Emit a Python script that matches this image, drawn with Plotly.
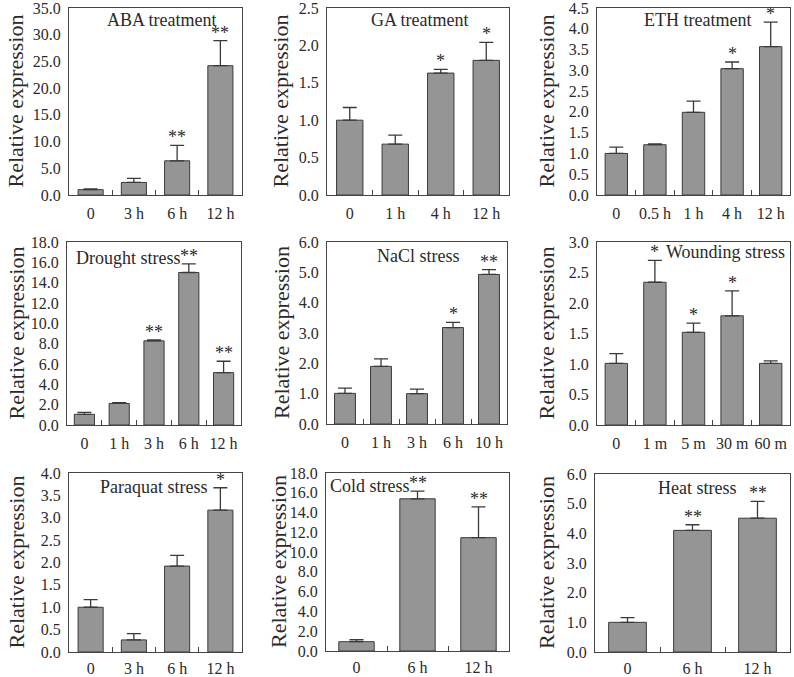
import plotly.graph_objects as go
from plotly.subplots import make_subplots

# ---------------- data ----------------
aba_x = ["0", "3 h", "6 h", "12 h"]
aba_y = [1.0, 2.35, 6.4, 24.2]
aba_err = [0.15, 0.75, 2.9, 4.7]
aba_sig = ["", "", "**", "**"]

ga_x = ["0", "1 h", "4 h", "12 h"]
ga_y = [1.0, 0.68, 1.63, 1.80]
ga_err = [0.17, 0.12, 0.05, 0.24]
ga_sig = ["", "", "*", "*"]

eth_x = ["0", "0.5 h", "1 h", "4 h", "12 h"]
eth_y = [1.0, 1.21, 1.99, 3.04, 3.57]
eth_err = [0.15, 0.02, 0.27, 0.16, 0.59]
eth_sig = ["", "", "", "*", "*"]

drought_x = ["0", "1 h", "3 h", "6 h", "12 h"]
drought_y = [1.05, 2.12, 8.28, 15.0, 5.15]
drought_err = [0.2, 0.07, 0.08, 0.85, 1.12]
drought_sig = ["", "", "**", "**", "**"]

nacl_x = ["0", "1 h", "3 h", "6 h", "10 h"]
nacl_y = [1.01, 1.9, 1.0, 3.18, 4.93]
nacl_err = [0.17, 0.25, 0.15, 0.17, 0.16]
nacl_sig = ["", "", "", "*", "**"]

wound_x = ["0", "1 m", "5 m", "30 m", "60 m"]
wound_y = [1.01, 2.34, 1.52, 1.79, 1.01]
wound_err = [0.16, 0.36, 0.15, 0.41, 0.04]
wound_sig = ["", "*", "*", "*", ""]

para_x = ["0", "3 h", "6 h", "12 h"]
para_y = [1.0, 0.27, 1.92, 3.17]
para_err = [0.17, 0.14, 0.24, 0.5]
para_sig = ["", "", "", "*"]

cold_x = ["0", "6 h", "12 h"]
cold_y = [0.94, 15.39, 11.46]
cold_err = [0.2, 0.77, 3.12]
cold_sig = ["", "**", "**"]

heat_x = ["0", "6 h", "12 h"]
heat_y = [1.0, 4.1, 4.51]
heat_err = [0.16, 0.19, 0.57]
heat_sig = ["", "**", "**"]

titles = ["ABA treatment", "GA treatment", "ETH treatment",
          "Drought stress", "NaCl stress", "Wounding stress",
          "Paraquat stress", "Cold stress", "Heat stress"]
y_max = [35, 2.5, 4.5, 18, 6, 3, 4, 18, 6]
y_step = [5, 0.5, 0.5, 2, 1, 0.5, 0.5, 2, 1]
y_title = "Relative expression"

panels = [
    (aba_x, aba_y, aba_err, aba_sig),
    (ga_x, ga_y, ga_err, ga_sig),
    (eth_x, eth_y, eth_err, eth_sig),
    (drought_x, drought_y, drought_err, drought_sig),
    (nacl_x, nacl_y, nacl_err, nacl_sig),
    (wound_x, wound_y, wound_err, wound_sig),
    (para_x, para_y, para_err, para_sig),
    (cold_x, cold_y, cold_err, cold_sig),
    (heat_x, heat_y, heat_err, heat_sig),
]

# ---------------- layout geometry (page pixels) ----------------
W, H = 794, 677

px_x = [(69, 242), (327, 509), (597, 790),
        (67, 241), (327, 507), (597, 790),
        (69, 242), (326, 509), (595, 790)]
px_y = [(8, 195), (8, 195), (8, 195),
        (242, 425), (242, 424), (242, 425),
        (473, 652), (473, 651), (474, 652)]
title_pos = [(161, 20), (419, 20), (697, 20),
             (128, 258), (418, 256), (725, 252),
             (153, 487), (370, 486), (697, 488)]
ytitle_x = [15, 280, 546, 16, 281, 546, 16, 278, 546]
x_standoff = [4, 4, 4, 4, 4, 4, 2, 2, 2]


def fx(p):
    return p / W


def fy(p):
    return 1 - p / H


FONT = "Liberation Serif"
TXT = "#2a2a2a"

fig = make_subplots(rows=3, cols=3)

for i, (xs, ys, es, sg) in enumerate(panels):
    r, c = i // 3 + 1, i % 3 + 1
    fig.add_trace(go.Bar(
        x=xs, y=ys,
        marker=dict(color="#959595", line=dict(color="#3a3a3a", width=1)),
        error_y=dict(type="data", array=es, arrayminus=[0] * len(es),
                     symmetric=False, color="#3a3a3a", thickness=1.3, width=7),
        showlegend=False,
    ), row=r, col=c)

    n = i + 1
    xa = "xaxis" if n == 1 else f"xaxis{n}"
    ya = "yaxis" if n == 1 else f"yaxis{n}"
    x0, x1 = px_x[i]
    yt, yb = px_y[i]
    fig.layout[xa].update(
        domain=[fx(x0), fx(x1)], type="category", automargin=False,
        tickson="boundaries", ticks="inside", ticklen=5, tickcolor="#444",
        showline=True, mirror=True, linecolor="#444", linewidth=1,
        showgrid=False, zeroline=False, tickangle=0,
        tickfont=dict(family=FONT, size=16, color=TXT),
        ticklabelstandoff=x_standoff[i], ticklabeloverflow="allow",
    )
    fig.layout[ya].update(
        domain=[fy(yb), fy(yt)], automargin=False,
        range=[0, y_max[i]], dtick=y_step[i], tick0=0, tickformat=".1f",
        ticks="", showline=True, mirror=True, linecolor="#444", linewidth=1,
        showgrid=False, zeroline=False,
        tickfont=dict(family=FONT, size=16, color=TXT),
        ticklabelstandoff=4, ticklabeloverflow="allow",
    )

    xr = "x" if n == 1 else f"x{n}"
    yr = "y" if n == 1 else f"y{n}"
    # panel title
    tx, ty = title_pos[i]
    fig.add_annotation(x=fx(tx), y=fy(ty), xref="paper", yref="paper",
                       text=titles[i], showarrow=False,
                       font=dict(family=FONT, size=18, color=TXT),
                       xanchor="center", yanchor="middle")
    # y-axis title
    fig.add_annotation(x=fx(ytitle_x[i]), y=fy((yt + yb) / 2),
                       xref="paper", yref="paper", text=y_title,
                       textangle=-90, showarrow=False,
                       font=dict(family=FONT, size=22, color=TXT),
                       xanchor="center", yanchor="middle")
    # significance stars
    for xv, yv, ev, s in zip(xs, ys, es, sg):
        if s:
            fig.add_annotation(x=xv, y=yv + ev, xref=xr, yref=yr, text=s,
                               showarrow=False, yanchor="bottom", yshift=-4,
                               font=dict(family=FONT, size=18, color=TXT))

fig.update_layout(
    width=W, height=H, margin=dict(l=0, r=0, t=0, b=0),
    paper_bgcolor="white", plot_bgcolor="white",
    bargap=0.42,
)

# remove the default 8px page margin so the figure fills the window exactly
fig.write_html("out.html",
               config={"displayModeBar": False},
               post_script="document.body.style.margin='0px';document.body.style.overflow='hidden';")
